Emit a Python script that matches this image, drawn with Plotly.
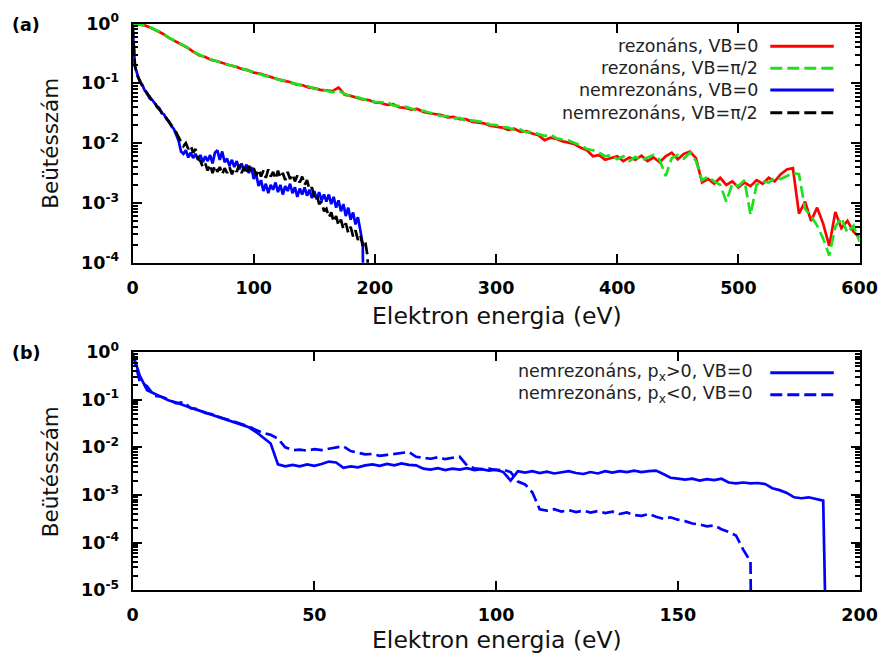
import numpy as np
import plotly.graph_objects as go

# ---------------- panel (a): spectra, resonant vs. non-resonant ----------------
E_res = np.arange(0, 601, 5)
rez_vb0 = [
    1.0, 0.977, 0.933, 0.851, 0.759, 0.676, 0.575, 0.513, 0.447, 0.398,
    0.339, 0.295, 0.275, 0.245, 0.234, 0.214, 0.200, 0.191, 0.174, 0.166,
    0.151, 0.145, 0.135, 0.123, 0.117, 0.110, 0.105, 0.0955, 0.0933, 0.0851,
    0.0832, 0.0776, 0.0759, 0.0741, 0.0851, 0.0646, 0.0617, 0.0575, 0.0537, 0.0525,
    0.0479, 0.0468, 0.0437, 0.0447, 0.0398, 0.0389, 0.0363, 0.0372, 0.0331, 0.0316,
    0.0302, 0.0295, 0.0269, 0.0275, 0.0251, 0.0251, 0.0229, 0.0219, 0.0214, 0.0195,
    0.0191, 0.0182, 0.0166, 0.0174, 0.0155, 0.0158, 0.0145, 0.0135, 0.0112, 0.0123,
    0.0117, 0.0107, 0.0102, 0.00955, 0.00832, 0.00759, 0.00603, 0.00631, 0.00525, 0.00562,
    0.00603, 0.00501, 0.00575, 0.00525, 0.00617, 0.00501, 0.00575, 0.00479, 0.00603, 0.00692,
    0.00537, 0.00661, 0.00724, 0.00562, 0.00219, 0.00251, 0.00209, 0.00263, 0.00200, 0.00229,
    0.00182, 0.00219, 0.00191, 0.00240, 0.00209, 0.00263, 0.00229, 0.00302, 0.00363, 0.00380,
    0.000661, 0.00105, 0.000501, 0.000832, 0.000447, 0.000191, 0.000708, 0.000380, 0.000501, 0.000331,
    0.000263,
]
rez_vbpi2 = [
    1.0, 0.97, 0.93, 0.86, 0.76, 0.68, 0.58, 0.51, 0.45, 0.40,
    0.34, 0.30, 0.27, 0.25, 0.23, 0.215, 0.20, 0.19, 0.176, 0.165,
    0.152, 0.141, 0.132, 0.126, 0.115, 0.112, 0.102, 0.0977, 0.0912, 0.0891,
    0.0813, 0.0794, 0.0741, 0.0708, 0.0759, 0.0661, 0.0603, 0.0589, 0.0550, 0.0513,
    0.0490, 0.0479, 0.0490, 0.0427, 0.0417, 0.0407, 0.0380, 0.0347, 0.0347, 0.0324,
    0.0309, 0.0282, 0.0282, 0.0257, 0.0263, 0.0234, 0.0240, 0.0229, 0.0224, 0.0204,
    0.0200, 0.0186, 0.0182, 0.0166, 0.0170, 0.0151, 0.0155, 0.0141, 0.0132, 0.0138,
    0.0120, 0.0115, 0.0110, 0.0100, 0.00912, 0.00794, 0.00759, 0.00692, 0.00603, 0.00631,
    0.00537, 0.00603, 0.00501, 0.00589, 0.00513, 0.00575, 0.00631, 0.00525, 0.00282, 0.00562,
    0.00631, 0.00550, 0.00692, 0.00501, 0.00240, 0.00275, 0.00229, 0.00200, 0.00105, 0.00209,
    0.00191, 0.00240, 0.000631, 0.00200, 0.00229, 0.00219, 0.00263, 0.00251, 0.00282, 0.00316,
    0.00302, 0.000794, 0.000603, 0.000417, 0.000251, 0.000132, 0.000398, 0.000562, 0.000316, 0.000417,
    0.000224,
]

E_nem_vb0 = np.append(np.arange(0, 191, 2), 191)
nem_vb0 = [
    0.93, 0.19, 0.141, 0.105, 0.0955, 0.0759, 0.0692, 0.0562, 0.0537, 0.0468,
    0.0417, 0.0389, 0.0316, 0.0302, 0.0251, 0.0234, 0.0191, 0.0174, 0.0138, 0.0110,
    0.00724, 0.00661, 0.00759, 0.00575, 0.00692, 0.00562, 0.00661, 0.00525, 0.00631, 0.00479,
    0.00603, 0.00501, 0.00631, 0.00457, 0.00692, 0.00759, 0.00525, 0.00724, 0.00479, 0.00550,
    0.00417, 0.00525, 0.00398, 0.00501, 0.00363, 0.00457, 0.00347, 0.00437, 0.00316, 0.00398,
    0.00251, 0.00302, 0.00191, 0.00240, 0.00158, 0.00209, 0.00145, 0.00200, 0.00166, 0.00219,
    0.00151, 0.00200, 0.00138, 0.00191, 0.00158, 0.00209, 0.00145, 0.00182, 0.00126, 0.00174,
    0.00138, 0.00182, 0.00132, 0.00166, 0.00120, 0.00158, 0.00115, 0.00151, 0.00110, 0.00138,
    0.00105, 0.00138, 0.000955, 0.00126, 0.000832, 0.00110, 0.000724, 0.000955, 0.000603, 0.000832,
    0.000525, 0.000692, 0.000437, 0.000575, 0.000347, 0.000200, 1e-6,
]

E_nem_vbpi2 = np.append(np.arange(0, 195, 2), 195)
nem_vbpi2 = [
    0.955, 0.200, 0.132, 0.112, 0.0891, 0.0794, 0.0661, 0.0603, 0.0513, 0.0490,
    0.0407, 0.0372, 0.0331, 0.0288, 0.0263, 0.0224, 0.0200, 0.0166, 0.0151, 0.0126,
    0.0107, 0.00891, 0.0100, 0.00794, 0.00912, 0.00692, 0.00794, 0.00550, 0.00501, 0.00398,
    0.00457, 0.00347, 0.00437, 0.00316, 0.00417, 0.00331, 0.00398, 0.00302, 0.00380, 0.00316,
    0.00398, 0.00302, 0.00380, 0.00331, 0.00437, 0.00316, 0.00398, 0.00302, 0.00417, 0.00331,
    0.00380, 0.00288, 0.00363, 0.00275, 0.00347, 0.00263, 0.00363, 0.00275, 0.00331, 0.00251,
    0.00347, 0.00263, 0.00316, 0.00240, 0.00331, 0.00251, 0.00302, 0.00229, 0.00288, 0.00219,
    0.00275, 0.00200, 0.00240, 0.00166, 0.00182, 0.00126, 0.00138, 0.000955, 0.00105, 0.000724,
    0.000794, 0.000575, 0.000692, 0.000479, 0.000603, 0.000417, 0.000525, 0.000363, 0.000457, 0.000316,
    0.000398, 0.000275, 0.000347, 0.000240, 0.000288, 0.000191, 0.000229, 0.000126, 1e-6,
]

# ---------------- panel (b): non-resonant, split by sign of p_x ----------------
E_px_pos = np.append(np.arange(0, 191, 2), 191)
px_pos = [
    0.955, 0.316, 0.158, 0.132, 0.110, 0.0955, 0.0871, 0.0759, 0.0676, 0.0603,
    0.0537, 0.0479, 0.0417, 0.0372, 0.0331, 0.0295, 0.0263, 0.0209, 0.0158, 0.0120,
    0.00437, 0.00398, 0.00427, 0.00398, 0.00437, 0.00407, 0.00447, 0.00501, 0.00479, 0.00372,
    0.00398, 0.00380, 0.00417, 0.00437, 0.00407, 0.00447, 0.00417, 0.00457, 0.00427, 0.00417,
    0.00355, 0.00339, 0.00363, 0.00331, 0.00355, 0.00339, 0.00363, 0.00331, 0.00347, 0.00324,
    0.00339, 0.00302, 0.00200, 0.00316, 0.00295, 0.00316, 0.00288, 0.00309, 0.00282, 0.00302,
    0.00316, 0.00288, 0.00275, 0.00302, 0.00282, 0.00316, 0.00295, 0.00316, 0.00302, 0.00324,
    0.00302, 0.00316, 0.00324, 0.00275, 0.00229, 0.00219, 0.00209, 0.00219, 0.00200, 0.00214,
    0.00204, 0.00219, 0.00182, 0.00174, 0.00182, 0.00174, 0.00178, 0.00170, 0.00138, 0.00126,
    0.00110, 0.000891, 0.000851, 0.000891, 0.000832, 0.000759, 1e-7,
]

E_px_neg = np.append(np.arange(0, 171, 2), 170.3)
px_neg = [
    0.955, 0.240, 0.191, 0.120, 0.115, 0.100, 0.0832, 0.0891, 0.0661, 0.0631,
    0.0525, 0.0490, 0.0427, 0.0380, 0.0339, 0.0302, 0.0275, 0.0229, 0.0200, 0.0182,
    0.0151, 0.0100, 0.00871, 0.00891, 0.00851, 0.00912, 0.00871, 0.00933, 0.0100, 0.0105,
    0.00832, 0.00759, 0.00708, 0.00724, 0.00661, 0.00692, 0.00724, 0.00776, 0.00794, 0.00631,
    0.00603, 0.00575, 0.00617, 0.00562, 0.00603, 0.00631, 0.00417, 0.00363, 0.00347, 0.00355,
    0.00331, 0.00339, 0.00302, 0.00191, 0.00166, 0.00112, 0.000501, 0.000468, 0.000501, 0.000447,
    0.000479, 0.000437, 0.000468, 0.000427, 0.000457, 0.000417, 0.000447, 0.000398, 0.000427, 0.000380,
    0.000363, 0.000398, 0.000347, 0.000316, 0.000339, 0.000302, 0.000282, 0.000251, 0.000240, 0.000219,
    0.000229, 0.000191, 0.000166, 0.000141, 0.0000708, 0.0000398, 1e-7,
]

W, H = 888, 659
# on-screen placement of the page: offset and scale per axis
OFF_X, SC_X = 2.4, 0.981
OFF_Y, SC_Y = 8.4, 0.974
FONT = "DejaVu Sans"
RED, GREEN, BLUE, BLACK = "#ff0000", "#1fe01f", "#0000ff", "#000000"
DASH = "12px,5px"


def px_x(p):
    return (p - OFF_X) / SC_X / W


def px_y(p):
    return 1 - (p - OFF_Y) / SC_Y / H


def sup_labels(exps):
    return [f"<b>10<sup>{e}</sup></b>" for e in exps]


def log_minor(lo, hi):
    return [m * 10.0 ** k for k in range(lo, hi) for m in range(2, 10)]


tick_font = dict(family=FONT, size=17.5, color="black")
frame = dict(showline=True, linecolor="black", linewidth=2, mirror="ticks",
             ticks="inside", ticklen=9, tickwidth=2, tickcolor="black",
             showgrid=False, zeroline=False, tickfont=tick_font,
             ticklabeloverflow="allow")

fig = go.Figure()

line_w = 2.7
fig.add_trace(go.Scatter(x=E_res, y=rez_vb0, mode="lines", xaxis="x", yaxis="y",
                         line=dict(color=RED, width=line_w), showlegend=False))
fig.add_trace(go.Scatter(x=E_res, y=rez_vbpi2, mode="lines", xaxis="x", yaxis="y",
                         line=dict(color=GREEN, width=line_w, dash=DASH), showlegend=False))
fig.add_trace(go.Scatter(x=E_nem_vb0, y=nem_vb0, mode="lines", xaxis="x", yaxis="y",
                         line=dict(color=BLUE, width=line_w), showlegend=False))
fig.add_trace(go.Scatter(x=E_nem_vbpi2, y=nem_vbpi2, mode="lines", xaxis="x", yaxis="y",
                         line=dict(color=BLACK, width=line_w, dash=DASH), showlegend=False))

fig.add_trace(go.Scatter(x=E_px_pos, y=px_pos, mode="lines", xaxis="x2", yaxis="y2",
                         line=dict(color=BLUE, width=line_w), showlegend=False))
fig.add_trace(go.Scatter(x=E_px_neg, y=px_neg, mode="lines", xaxis="x2", yaxis="y2",
                         line=dict(color=BLUE, width=line_w, dash=DASH), showlegend=False))

xdom = [px_x(130), min(px_x(863), 1.0)]
fig.update_layout(
    width=W, height=H,
    margin=dict(l=0, r=0, t=0, b=0),
    paper_bgcolor="white", plot_bgcolor="white",
    xaxis=dict(frame, domain=xdom, anchor="y", range=[0, 600],
               tickvals=[0, 100, 200, 300, 400, 500, 600],
               ticktext=[f"<b>{v}</b>" for v in [0, 100, 200, 300, 400, 500, 600]],
               ticklabelstandoff=8),
    yaxis=dict(frame, domain=[px_y(261), px_y(20)], anchor="x", type="log", range=[-4, 0],
               tickvals=[1e-4, 1e-3, 1e-2, 1e-1, 1],
               ticktext=sup_labels([-4, -3, -2, -1, 0]),
               ticklabelstandoff=8,
               minor=dict(ticks="inside", ticklen=5, tickwidth=1.5, tickcolor="black",
                          tickvals=log_minor(-4, 0), showgrid=False)),
    xaxis2=dict(frame, domain=xdom, anchor="y2", range=[0, 200],
                tickvals=[0, 50, 100, 150, 200],
                ticktext=[f"<b>{v}</b>" for v in [0, 50, 100, 150, 200]],
                ticklabelstandoff=8),
    yaxis2=dict(frame, domain=[px_y(591), px_y(351)], anchor="x2", type="log", range=[-5, 0],
                tickvals=[1e-5, 1e-4, 1e-3, 1e-2, 1e-1, 1],
                ticktext=sup_labels([-5, -4, -3, -2, -1, 0]),
                ticklabelstandoff=8,
                minor=dict(ticks="inside", ticklen=5, tickwidth=1.5, tickcolor="black",
                           tickvals=log_minor(-5, 0), showgrid=False)),
)

ann = []
title_font = dict(family=FONT, size=21.5, color="#111")
xt_font = dict(family=FONT, size=23.5, color="#111")
for yc in (141, 472):
    ann.append(dict(text="Beütésszám", x=px_x(47), y=px_y(yc), xref="paper", yref="paper",
                    textangle=-90, showarrow=False, font=title_font,
                    xanchor="center", yanchor="middle"))
for yc in (315, 641):
    ann.append(dict(text="Elektron energia (eV)", x=px_x(497), y=px_y(yc), xref="paper",
                    yref="paper", showarrow=False, font=xt_font,
                    xanchor="center", yanchor="middle"))
for lab, yc in (("(a)", 22), ("(b)", 352)):
    ann.append(dict(text=f"<b>{lab}</b>", x=px_x(23), y=px_y(yc), xref="paper", yref="paper",
                    showarrow=False, font=dict(family=FONT, size=17.5, color="black"),
                    xanchor="center", yanchor="middle"))

# legend rows: text right-aligned, sample line to its right
leg_font = dict(family=FONT, size=17.5, color="#222")
legend_rows = [
    ("rezonáns, VB=0", RED, "solid", 43, 763),
    ("rezonáns, VB=π/2", GREEN, DASH, 65, 763),
    ("nemrezonáns, VB=0", BLUE, "solid", 87, 763),
    ("nemrezonáns, VB=π/2", BLACK, DASH, 110, 763),
    ("nemrezonáns, p<sub>x</sub>>0, VB=0", BLUE, "solid", 372, 758),
    ("nemrezonáns, p<sub>x</sub><0, VB=0", BLUE, DASH, 394, 758),
]
shapes = []
for text, col, dash, yc, xr in legend_rows:
    ann.append(dict(text=text, x=px_x(xr), y=px_y(yc), xref="paper", yref="paper",
                    showarrow=False, font=leg_font, xanchor="right", yanchor="middle"))
    shapes.append(dict(type="line", xref="paper", yref="paper",
                       x0=px_x(773), x1=px_x(837), y0=px_y(yc), y1=px_y(yc),
                       line=dict(color=col, width=3, dash=dash)))

fig.update_layout(annotations=ann, shapes=shapes)
fig.write_html("out.html")
